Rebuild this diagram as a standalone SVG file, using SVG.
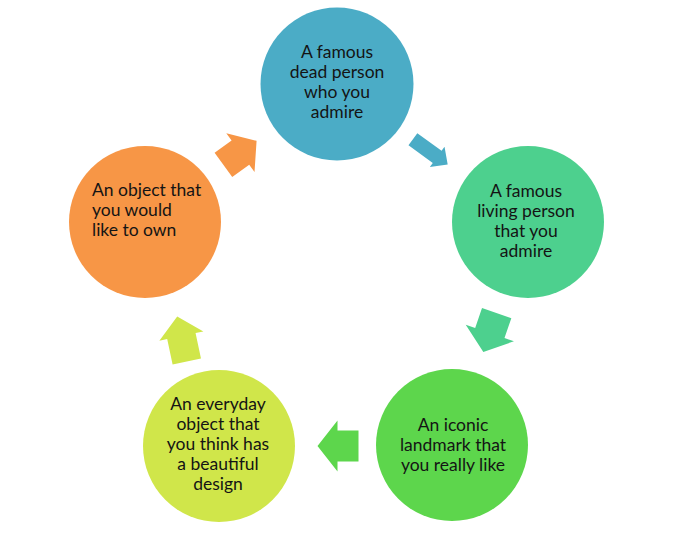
<svg xmlns="http://www.w3.org/2000/svg" width="680" height="557" viewBox="0 0 680 557">
<style>
  text { font-family: Lato, "Open Sans", "Liberation Sans", sans-serif; font-size: 17.5px; fill: #141414; }
  .c { text-anchor: middle; }
</style>
<rect width="680" height="557" fill="#ffffff"/>
<g id="connectors">
  <polygon id="arrow-blue" fill="#4BACC6" transform="translate(430.3,151.9) rotate(36)" points="-21.5,-7.5 8.5,-7.5 8.5,-12.5 21.5,0 8.5,12.5 8.5,7.5 -21.5,7.5"/>
  <polygon id="arrow-teal" fill="#4DD08E" transform="translate(490,332.5) rotate(109)" points="-20.5,-15.5 0.5,-15.5 0.5,-25.5 20.5,0 0.5,25.5 0.5,15.5 -20.5,15.5"/>
  <polygon id="arrow-green" fill="#5DD64C" transform="translate(338,446) rotate(180)" points="-20.5,-15.5 0.5,-15.5 0.5,-25.5 20.5,0 0.5,25.5 0.5,15.5 -20.5,15.5"/>
  <polygon id="arrow-yellow" fill="#D0E64A" transform="translate(182,339) rotate(-102)" points="-23,-14.5 3,-14.5 3,-22.5 23,0 3,22.5 3,14.5 -23,14.5"/>
  <polygon id="arrow-orange" fill="#F79646" transform="translate(240,152.9) rotate(-36)" points="-20.5,-15 0.5,-15 0.5,-24 20.5,0 0.5,24 0.5,15 -20.5,15"/>
</g>
<g id="node-dead">
  <circle cx="337" cy="84" r="76.5" fill="#4BACC6"/>
  <text class="c" x="337" y="58">A famous</text>
  <text class="c" x="337" y="78">dead person</text>
  <text class="c" x="337" y="98">who you</text>
  <text class="c" x="337" y="118">admire</text>
</g>
<g id="node-living">
  <circle cx="528" cy="222" r="76" fill="#4DD08E"/>
  <text class="c" x="526" y="197">A famous</text>
  <text class="c" x="526" y="217">living person</text>
  <text class="c" x="526" y="237">that you</text>
  <text class="c" x="526" y="257">admire</text>
</g>
<g id="node-landmark">
  <circle cx="452" cy="445" r="76" fill="#5DD64C"/>
  <text class="c" x="453" y="431">An iconic</text>
  <text class="c" x="453" y="451">landmark that</text>
  <text class="c" x="453" y="471">you really like</text>
</g>
<g id="node-everyday">
  <circle cx="219" cy="446" r="76" fill="#D0E64A"/>
  <text class="c" x="218" y="410">An everyday</text>
  <text class="c" x="218" y="430">object that</text>
  <text class="c" x="218" y="450">you think has</text>
  <text class="c" x="218" y="470">a beautiful</text>
  <text class="c" x="218" y="490">design</text>
</g>
<g id="node-object">
  <circle cx="145" cy="222" r="76" fill="#F79646"/>
  <text x="92" y="196">An object that</text>
  <text x="92" y="216">you would</text>
  <text x="92" y="236">like to own</text>
</g>
</svg>
